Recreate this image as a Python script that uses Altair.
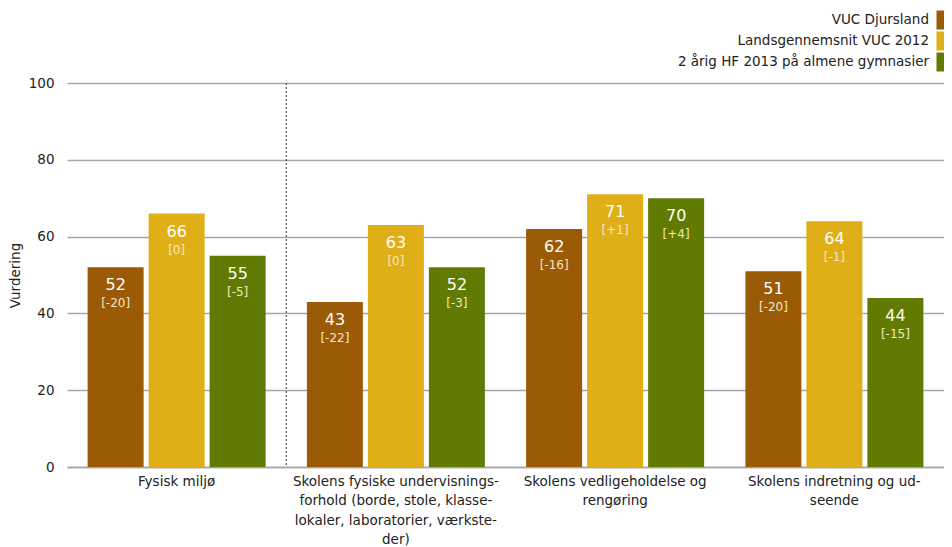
import altair as alt
import pandas as pd

categories = [
    "Fysisk miljø",
    "Skolens fysiske undervisnings-|forhold (borde, stole, klasse-|lokaler, laboratorier, værkste-|der)",
    "Skolens vedligeholdelse og|rengøring",
    "Skolens indretning og ud-|seende",
]
series = ["VUC Djursland", "Landsgennemsnit VUC 2012", "2 årig HF 2013 på almene gymnasier"]
colors = ["#9B5A05", "#E0AE16", "#607A02"]

values_djursland = [52, 43, 62, 51]
values_lands = [66, 63, 71, 64]
values_hf = [55, 52, 70, 44]
diff_djursland = ["[-20]", "[-22]", "[-16]", "[-20]"]
diff_lands = ["[0]", "[0]", "[+1]", "[-1]"]
diff_hf = ["[-5]", "[-3]", "[+4]", "[-15]"]

rows = []
for s, vals, diffs in zip(series, [values_djursland, values_lands, values_hf],
                          [diff_djursland, diff_lands, diff_hf]):
    for c, v, d in zip(categories, vals, diffs):
        rows.append({"category": c, "series": s, "value": v, "diff": d})
df = pd.DataFrame(rows)
legend_df = pd.DataFrame({"series": series})
divider_df = pd.DataFrame({"category": [categories[1]]})

FONT = "DejaVu Sans"
color_scale = alt.Scale(domain=series, range=colors)

x_enc = alt.X("category:N", sort=categories, title=None,
              scale=alt.Scale(paddingInner=0, paddingOuter=0),
              axis=alt.Axis(labelExpr="split(datum.label, '|')", labelAngle=0,
                            labelFontSize=13.5, labelLineHeight=19.5, labelPadding=7,
                            labelBaseline="top", ticks=False, domain=True,
                            domainColor="#a6a6a6", domainWidth=1.5, labelLimit=400))
xoff = alt.XOffset("series:N", sort=series,
                   scale=alt.Scale(paddingInner=0.082, paddingOuter=0.338))
y_enc = alt.Y("value:Q", title="Vurdering",
              scale=alt.Scale(domain=[0, 100], nice=False),
              axis=alt.Axis(values=[0, 20, 40, 60, 80, 100], ticks=False, domain=False,
                            labelPadding=13, labelFontSize=13.5, gridColor="#a6a6a6",
                            gridWidth=1.5, titleFontWeight="normal", titleFontSize=13.5,
                            titlePadding=6))

bars = alt.Chart(df).mark_bar().encode(
    x=x_enc, xOffset=xoff, y=y_enc,
    color=alt.Color("series:N", scale=color_scale, legend=None),
)
val_text = alt.Chart(df).mark_text(dy=18, baseline="middle", fontSize=16, color="white", font=FONT).encode(
    x=alt.X("category:N", sort=categories), xOffset=xoff, y="value:Q", text="value:Q"
)
diff_text = alt.Chart(df).mark_text(dy=36, baseline="middle", fontSize=12, color="#F3E6C4", font=FONT).encode(
    x=alt.X("category:N", sort=categories), xOffset=xoff, y="value:Q", text="diff:N"
)
divider = alt.Chart(divider_df).mark_rule(color="#333333", strokeDash=[2, 2], strokeWidth=1).encode(
    x=alt.X("category:N", sort=categories, bandPosition=0)
)

main = alt.layer(bars, val_text, diff_text, divider)

leg_y = alt.Y("series:N", sort=series, axis=None,
              scale=alt.Scale(type="point", range=[-63, -21], padding=0))
leg_text = alt.Chart(legend_df).mark_text(align="right", baseline="middle", fontSize=13.5,
                                           color="#222222", font=FONT).encode(
    x=alt.value(862), y=leg_y, text="series:N"
)
leg_sq = alt.Chart(legend_df).mark_square(size=361, opacity=1).encode(
    x=alt.value(879), y=leg_y,
    color=alt.Color("series:N", scale=color_scale, legend=None)
)
legend = alt.layer(leg_text, leg_sq)

chart = alt.layer(main, legend).resolve_scale(y="independent").properties(
    width=877, height=384, autosize="none",
    padding={"left": 59, "top": 75, "right": 0, "bottom": 80},
).configure_view(stroke=None).configure_axis(
    labelFont=FONT, titleFont=FONT, labelColor="#222222", titleColor="#222222"
)

chart.save("out.html", embed_options={"renderer": "svg", "actions": False})
